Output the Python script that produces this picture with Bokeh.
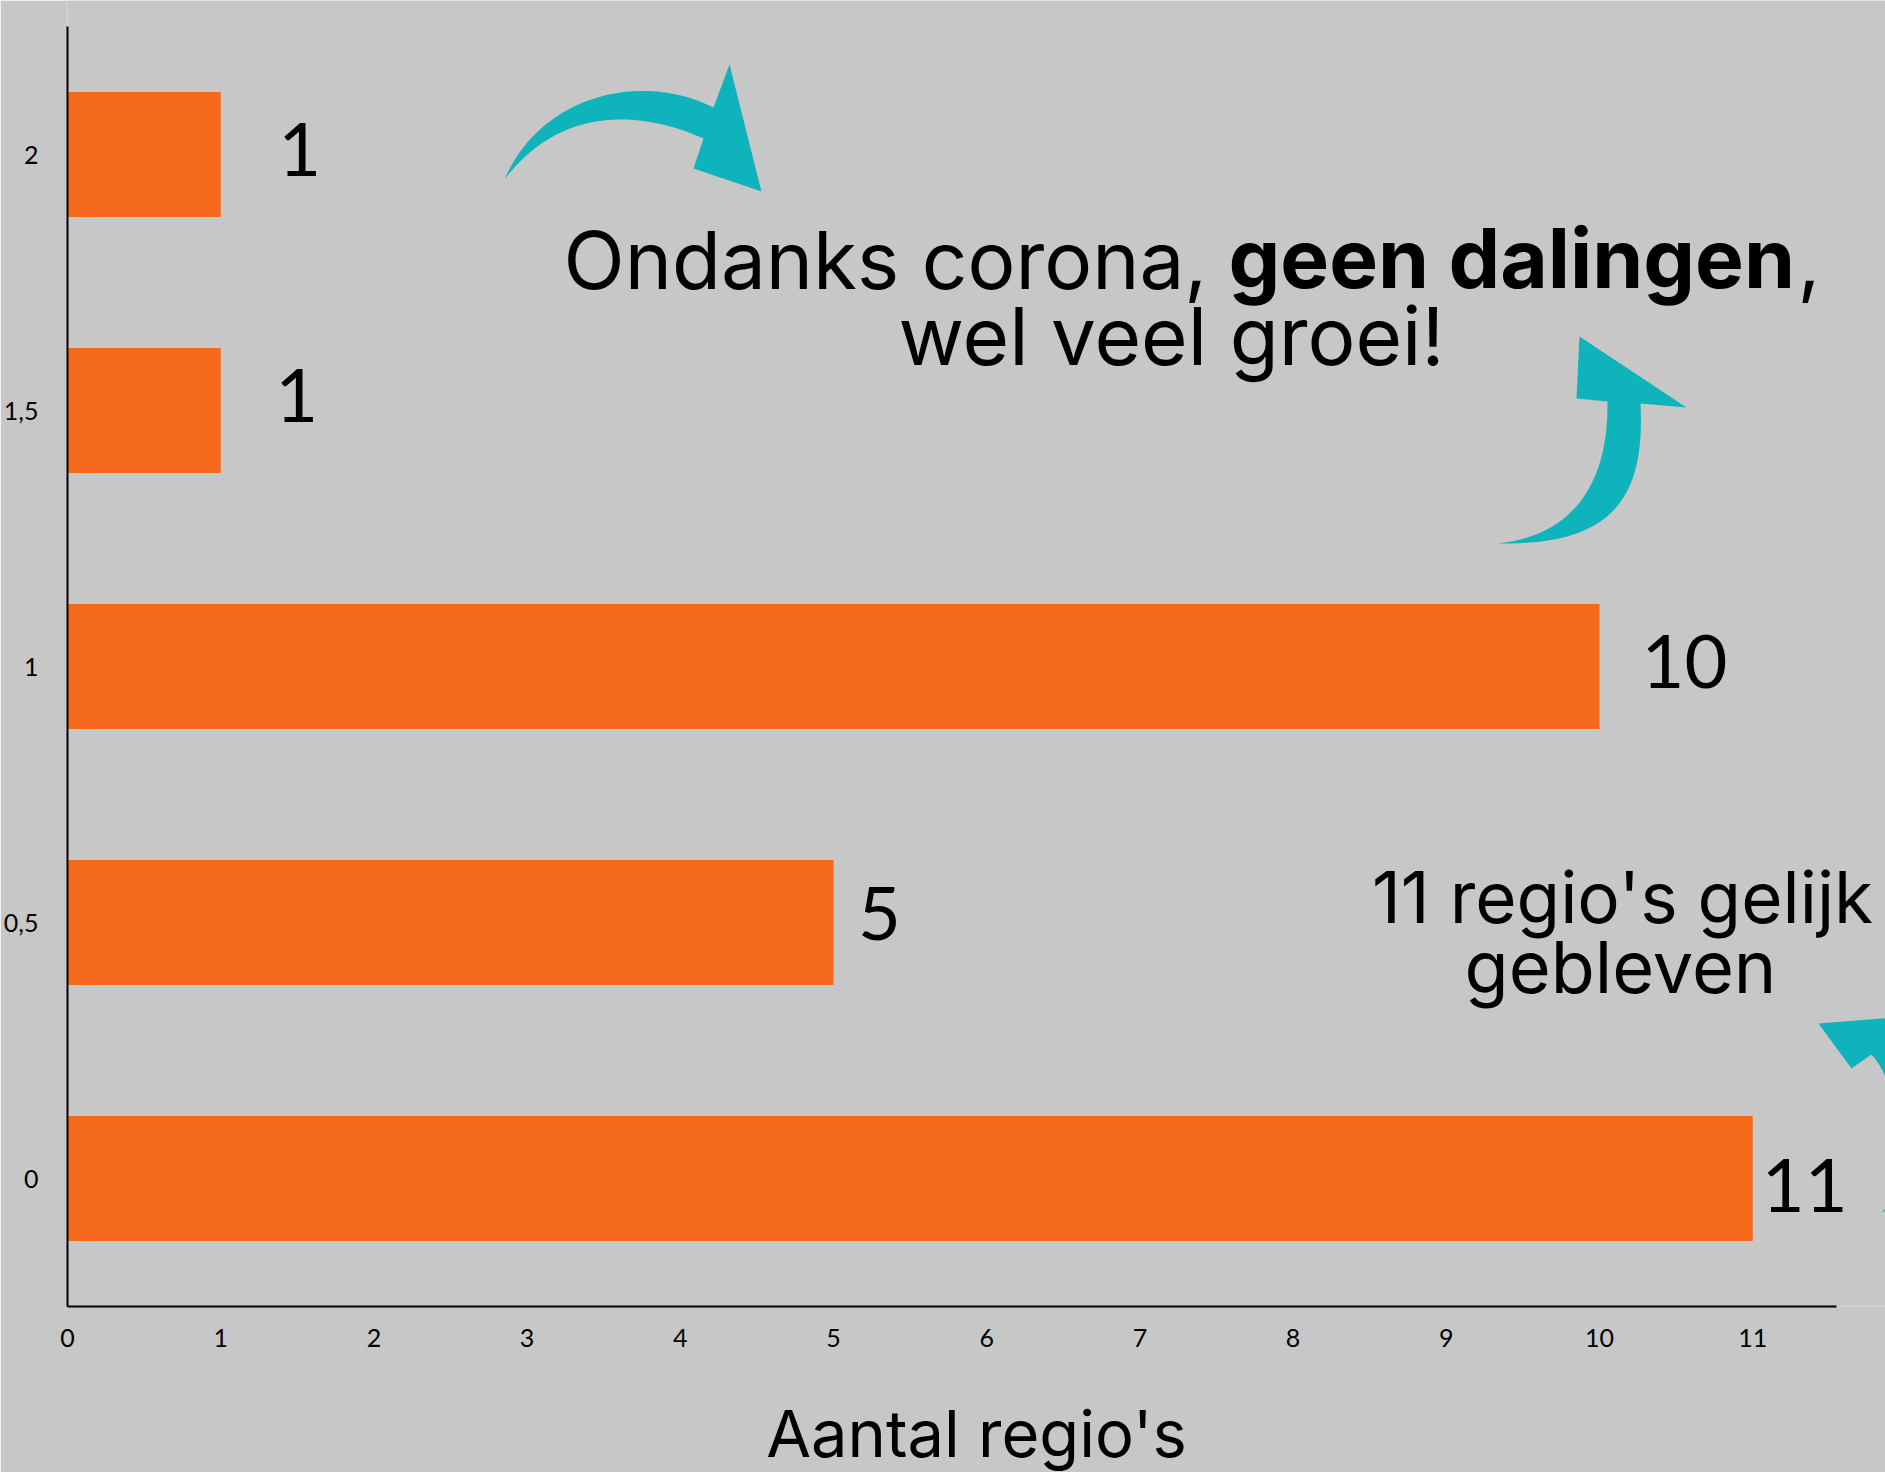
import numpy as np
from bokeh.plotting import figure
from bokeh.models import Range1d, FixedTicker, Label, ColumnDataSource
from bokeh.core.properties import value
from bokeh.embed import file_html
from bokeh.resources import INLINE

# ---- data ----
categories = [0, 0.5, 1, 1.5, 2]
category_labels = ["0", "0,5", "1", "1,5", "2"]
counts = [11, 5, 10, 1, 1]
x_ticks = list(range(0, 12))
x_title = "Aantal regio's"

# label fine placement (screen px, style only)
label_dx = [52, 46, 85, 76, 79]
label_dy = [7, -9, -5, -15, -5]

BG = "#C7C7C7"
ORANGE = "#F5691A"
TEAL = "#0FB3BB"

# frame geometry
X0 = 67
XS = 153.2
YS = 512.0
FW = 1818
FH = 1306
Y_BOT = -0.25
Y_TOP = Y_BOT + FH / YS
BASE_K = 0.36  # baseline correction factor (fraction of font size)


def dx(px):
    return (px - X0) / XS


def dy(py):
    return Y_TOP - py / YS


p = figure(frame_width=FW, frame_height=FH, output_backend="svg", toolbar_location=None,
           x_range=Range1d(0, FW / XS), y_range=Range1d(Y_BOT, Y_TOP),
           min_border_left=X0, min_border_right=0, min_border_top=0, min_border_bottom=166)
p.background_fill_color = BG
p.border_fill_color = BG
p.outline_line_color = None
p.xgrid.visible = False
p.ygrid.visible = False

p.hbar(y=categories, right=counts, left=0, height=125 / YS, fill_color=ORANGE, line_color=None)

src = ColumnDataSource(dict(x=counts, y=categories, t=[str(c) for c in counts],
                            dxo=label_dx, dyo=label_dy))
p.text(x="x", y="y", text="t", x_offset="dxo", y_offset="dyo", source=src,
       text_font=value("Lato"), text_font_size="74px", text_align="center",
       text_baseline="alphabetic", text_color="black")

# axes
xa = p.xaxis[0]
xa.ticker = FixedTicker(ticks=x_ticks)
xa.bounds = (0, 11.55)
xa.axis_line_width = 2
xa.axis_line_color = "black"
xa.major_tick_line_color = None
xa.minor_tick_line_color = None
xa.major_label_text_font = "Lato"
xa.major_label_text_font_size = "25px"
xa.major_label_text_color = "black"
xa.major_label_standoff = 16
xa.axis_label = x_title
xa.axis_label_text_font = "Inter"
xa.axis_label_text_font_style = "normal"
xa.axis_label_text_font_size = "65px"
xa.axis_label_text_color = "black"
xa.axis_label_standoff = 44

ya = p.yaxis[0]
ya.ticker = FixedTicker(ticks=categories)
ya.major_label_overrides = {c: l for c, l in zip(categories, category_labels)}
ya.bounds = (-0.25, 2.25)
ya.axis_line_width = 2
ya.axis_line_color = "black"
ya.major_tick_line_color = None
ya.minor_tick_line_color = None
ya.major_label_text_font = "Lato"
ya.major_label_text_font_size = "25px"
ya.major_label_text_color = "black"
ya.major_label_standoff = 23


# ---- decorative arrows (pixel outlines -> data) ----
def cubic(p0, p1, p2, p3, n=30):
    t = np.linspace(0, 1, n)[:, None]
    p0, p1, p2, p3 = map(np.array, (p0, p1, p2, p3))
    return ((1 - t) ** 3) * p0 + 3 * ((1 - t) ** 2) * t * p1 + 3 * (1 - t) * t ** 2 * p2 + t ** 3 * p3


def arrow(outer, head, inner):
    pts = np.vstack([outer, np.array(head), inner])
    return [dx(v) for v in pts[:, 0]], [dy(v) for v in pts[:, 1]]


arrows = []
# arrow 1 (top, pointing right-down)
a1_outer = cubic((504, 179), (540, 95), (640, 70), (713, 107))
a1_head = [(729, 64), (761, 191), (693, 168)]
a1_inner = cubic((703, 138), (640, 110), (560, 105), (504, 179))
arrows.append(arrow(a1_outer, a1_head, a1_inner))
# arrow 2 (right, pointing up)
a2_outer = cubic((1497, 543), (1610, 545), (1645, 500), (1640, 403))
a2_head = [(1686, 407), (1579, 336), (1576, 398)]
a2_inner = cubic((1607, 401), (1608, 480), (1575, 535), (1497, 543))
arrows.append(arrow(a2_outer, a2_head, a2_inner))
# arrow 3 (bottom right, mostly off-canvas, pointing up-left)
a3_outer = cubic((1881, 1212), (1940, 1190), (1950, 1090), (1905, 1035))
a3_head = [(1930, 1014), (1818, 1023), (1851, 1068)]
a3_inner = cubic((1871, 1054), (1900, 1085), (1915, 1180), (1881, 1212))
arrows.append(arrow(a3_outer, a3_head, a3_inner))

p.patches(xs=[a[0] for a in arrows], ys=[a[1] for a in arrows], fill_color=TEAL, line_color=None)


# ---- annotation texts ----
def lab(txt, px, py, size, align="left", style="normal", font="Inter"):
    py_adj = py - BASE_K * size
    p.add_layout(Label(x=dx(px), y=dy(py_adj), text=txt, text_font=font, text_font_size=f"{size}px",
                       text_font_style=style, text_align=align, text_baseline="alphabetic",
                       text_color="black"))


lab("Ondanks corona,", 563, 288, 80)
lab("geen dalingen", 1228, 288, 82, style="bold")
lab(",", 1797, 288, 80)
lab("wel veel groei!", 1171, 364, 80, align="center")
lab("11 regio's gelijk", 1622, 922, 71, align="center")
lab("gebleven", 1620, 992, 72, align="center")

open("out.html", "w").write(file_html(p, INLINE))
